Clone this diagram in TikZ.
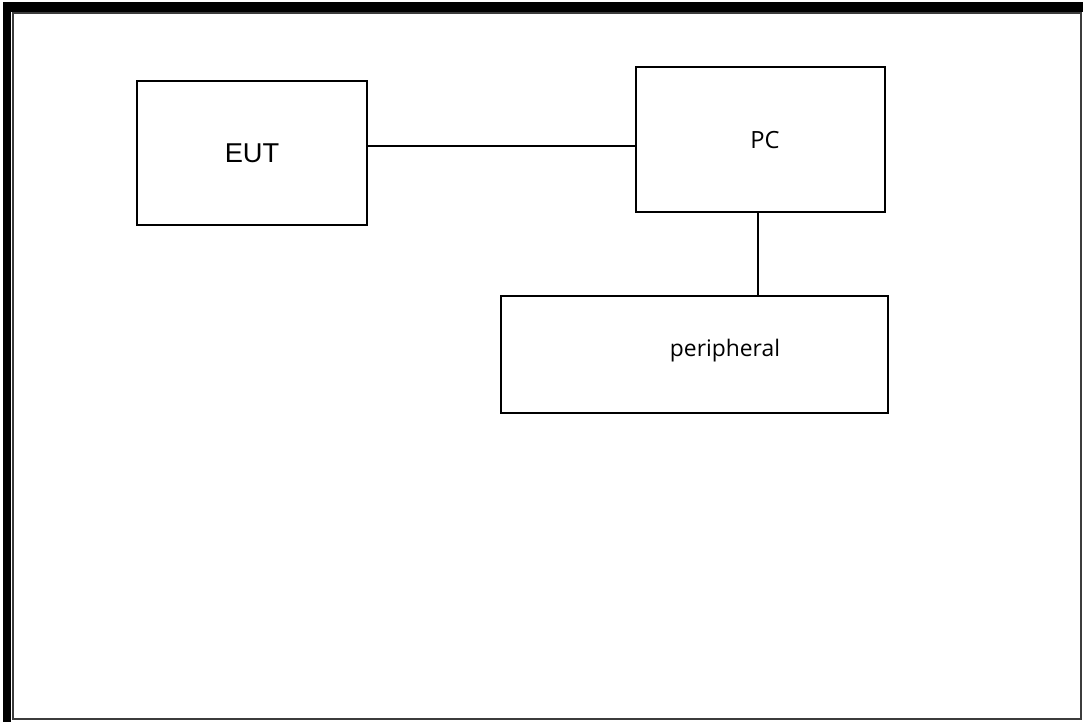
\documentclass[tikz,border=0pt]{standalone}
\usepackage{fontspec}
\setmainfont{Liberation Sans}
\newfontfamily\uifont{Open Sans}
\usepackage{tikz}
\usetikzlibrary{positioning}
\definecolor{framegray}{RGB}{60, 60, 60}

\begin{document}
\begin{tikzpicture}[
  x=0.02cm, y=-0.02cm,
  box/.style={rectangle, draw, line width=0.6pt, inner sep=0pt},
  link/.style={line width=0.6pt}
]

\useasboundingbox (0,0) rectangle (1083,722);

% Frame
\fill[black] (3,2) rectangle (1083,12);
\fill[black] (3,2) rectangle (11,722);
\draw[framegray, line width=0.6pt] (13,13) rectangle (1081,719);

% Boxes
\node[box, minimum width=230*0.02cm, minimum height=144*0.02cm, font=\fontsize{15.5}{17}\selectfont] (eut) at (252,153) {EUT};
\node[box, minimum width=249*0.02cm, minimum height=145*0.02cm] (pc) at (760.5,139.5) {};
\node[box, minimum width=387*0.02cm, minimum height=117*0.02cm] (periph) at (694.5,354.5) {};
\node[font=\uifont\fontsize{13.5}{15}\selectfont] (pctext) at (765,140) {PC};
\node[font=\uifont\fontsize{13}{15}\selectfont] (periphtext) at (725,351) {peripheral};

% Links
\draw[link] ([yshift=0.14cm]eut.east) -- ([yshift=0.14cm]eut.east -| pc.west);
\draw[link] ([xshift=-0.05cm]pc.south) -- ([xshift=-0.05cm]pc.south |- periph.north);

\end{tikzpicture}
\end{document}
